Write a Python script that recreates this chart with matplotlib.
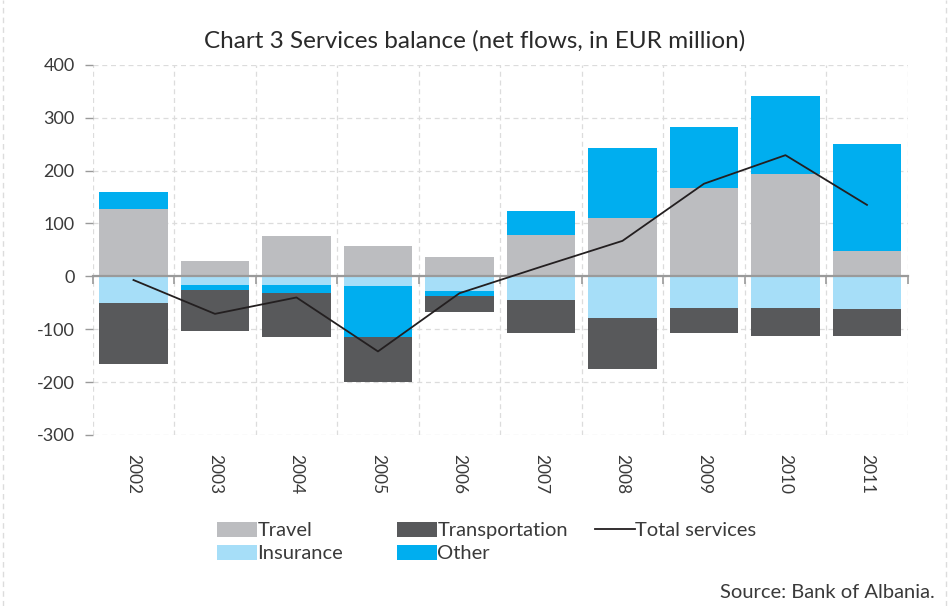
import matplotlib
matplotlib.use("Agg")
import matplotlib.pyplot as plt
from matplotlib.lines import Line2D
import numpy as np

plt.rcParams['font.family'] = ['Lato', 'DejaVu Sans']

# %% data (EUR million, net flows)
years = ["2002", "2003", "2004", "2005", "2006", "2007", "2008", "2009", "2010", "2011"]
travel = [127, 28, 76, 57, 36, 78, 110, 167, 193, 47]
insurance = [-51, -16, -16, -19, -27, -44, -79, -59, -59, -61]
other = [32, -9, -16, -96, -10, 45, 132, 115, 148, 203]
transportation = [-115, -79, -83, -84, -31, -64, -96, -48, -53, -52]
total_services = [-7, -71, -40, -142, -32, 18, 67, 175, 229, 135]

y_ticks = [-300, -200, -100, 0, 100, 200, 300, 400]

colors = {
    "Travel": "#bcbdc0",
    "Insurance": "#a6def8",
    "Other": "#00aeef",
    "Transportation": "#58595b",
}
text_col = "#3a3a3a"
grid_col = "#dcdcdc"

# %% figure
fig = plt.figure(figsize=(9.49, 6.06), dpi=100)
ax = fig.add_axes([0.0977, 0.2822, 0.8588, 0.6110])

x = np.arange(len(years))
width = 0.845

### stack positives and negatives separately, like a spreadsheet chart
series = [("Travel", travel), ("Insurance", insurance),
          ("Other", other), ("Transportation", transportation)]
pos_base = np.zeros(len(years))
neg_base = np.zeros(len(years))
handles = {}
for name, vals in series:
    vals = np.array(vals, dtype=float)
    base = np.where(vals >= 0, pos_base, neg_base)
    bars = ax.bar(x, vals, width, bottom=base, color=colors[name], label=name, zorder=2)
    handles[name] = bars
    pos_base += np.clip(vals, 0, None)
    neg_base += np.clip(vals, None, 0)

line, = ax.plot(x, total_services, color="#231f20", lw=1.3, zorder=4, label="Total services")

ax.set_xlim(-0.5, len(years) - 0.5)
ax.set_ylim(-300, 400)
ax.set_yticks(y_ticks)
ax.set_yticklabels([str(v) for v in y_ticks])

# zero line carries the category boundary ticks
ax.spines["bottom"].set_position(("data", 0))
ax.spines["bottom"].set_color("#9a9a9a")
ax.spines["bottom"].set_linewidth(1.6)
ax.spines["bottom"].set_zorder(3)
for side in ["top", "right", "left"]:
    ax.spines[side].set_visible(False)
ax.set_xticks(np.arange(-0.5, len(years), 1.0))
ax.set_xticklabels([])
ax.tick_params(axis="x", direction="out", length=6, color="#9a9a9a", width=1.2)
ax.tick_params(axis="y", direction="out", length=6, color="#9a9a9a", width=1.0,
               labelsize=13, labelcolor=text_col, pad=7)

ax.grid(True, color=grid_col, ls=(0, (4, 3)), lw=0.9, zorder=0)
ax.set_axisbelow(True)

# year labels along the bottom of the plot area
sec = ax.secondary_xaxis(0.0)
sec.set_xticks(x)
sec.set_xticklabels(years, rotation=270, fontsize=12.5, color=text_col)
sec.tick_params(length=0, pad=14)
sec.spines["bottom"].set_visible(False)

fig.text(0.5, 0.933, "Chart 3 Services balance (net flows, in EUR million)",
         ha="center", va="center", fontsize=17.5, color="#2a2a2a")

# legend in three hand-placed columns
leg_kw = dict(frameon=False, fontsize=14.5, handletextpad=0.0, handlelength=2.0,
              handleheight=0.75, labelspacing=0.28, borderpad=0, borderaxespad=0,
              loc="upper left", labelcolor=text_col)
top = 1 - 522 / 606
leg1 = fig.legend([handles["Travel"], handles["Insurance"]], ["Travel", "Insurance"],
                  bbox_to_anchor=(217 / 949, top), **leg_kw)
leg2 = fig.legend([handles["Transportation"], handles["Other"]], ["Transportation", "Other"],
                  bbox_to_anchor=(397 / 949, top), **leg_kw)
leg3 = fig.legend([line], ["Total services"],
                  bbox_to_anchor=(595 / 949, top), **leg_kw)

fig.text(0.985, 0.008, "Source: Bank of Albania.", ha="right", va="bottom",
         fontsize=14.5, color=text_col)

# dashed frame edges
for xf in [0.003, 0.997]:
    fig.add_artist(Line2D([xf, xf], [0, 1], transform=fig.transFigure,
                          color=grid_col, ls=(0, (4, 3)), lw=1.0))

fig.savefig("out.png", dpi=100)
